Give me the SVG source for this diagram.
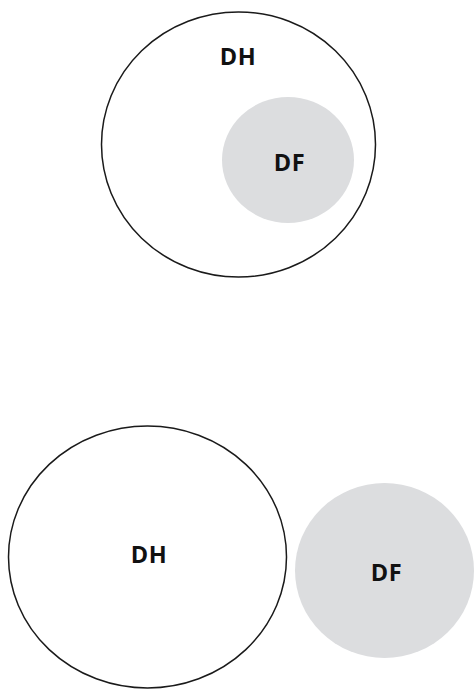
<svg xmlns="http://www.w3.org/2000/svg" width="474" height="689" viewBox="0 0 474 689">
<style>
.outer{fill:#fff;stroke:#1a1a1a;stroke-width:1.5}
.inner{fill:#dcdddf;stroke:none}
.lbl{font-family:"Open Sans","Liberation Sans",sans-serif;font-weight:bold;font-size:23.5px;letter-spacing:0.5px;fill:#111;text-anchor:middle}
</style>
<rect width="474" height="689" fill="#fff"/>
<g id="top-DH">
<ellipse class="outer" cx="238.5" cy="144.5" rx="137" ry="132.5"/>
<text class="lbl" x="238" y="64.5">DH</text>
</g>
<g id="top-DF">
<ellipse class="inner" cx="288" cy="160" rx="66" ry="63"/>
<text class="lbl" x="289.5" y="170.5">DF</text>
</g>
<g id="bottom-DH">
<ellipse class="outer" cx="147.5" cy="557" rx="139" ry="131"/>
<text class="lbl" x="149" y="562.5">DH</text>
</g>
<g id="bottom-DF">
<ellipse class="inner" cx="384.5" cy="570.5" rx="89.5" ry="87.5"/>
<text class="lbl" x="386.5" y="580.5">DF</text>
</g>
<g id="connectors"></g>
</svg>
